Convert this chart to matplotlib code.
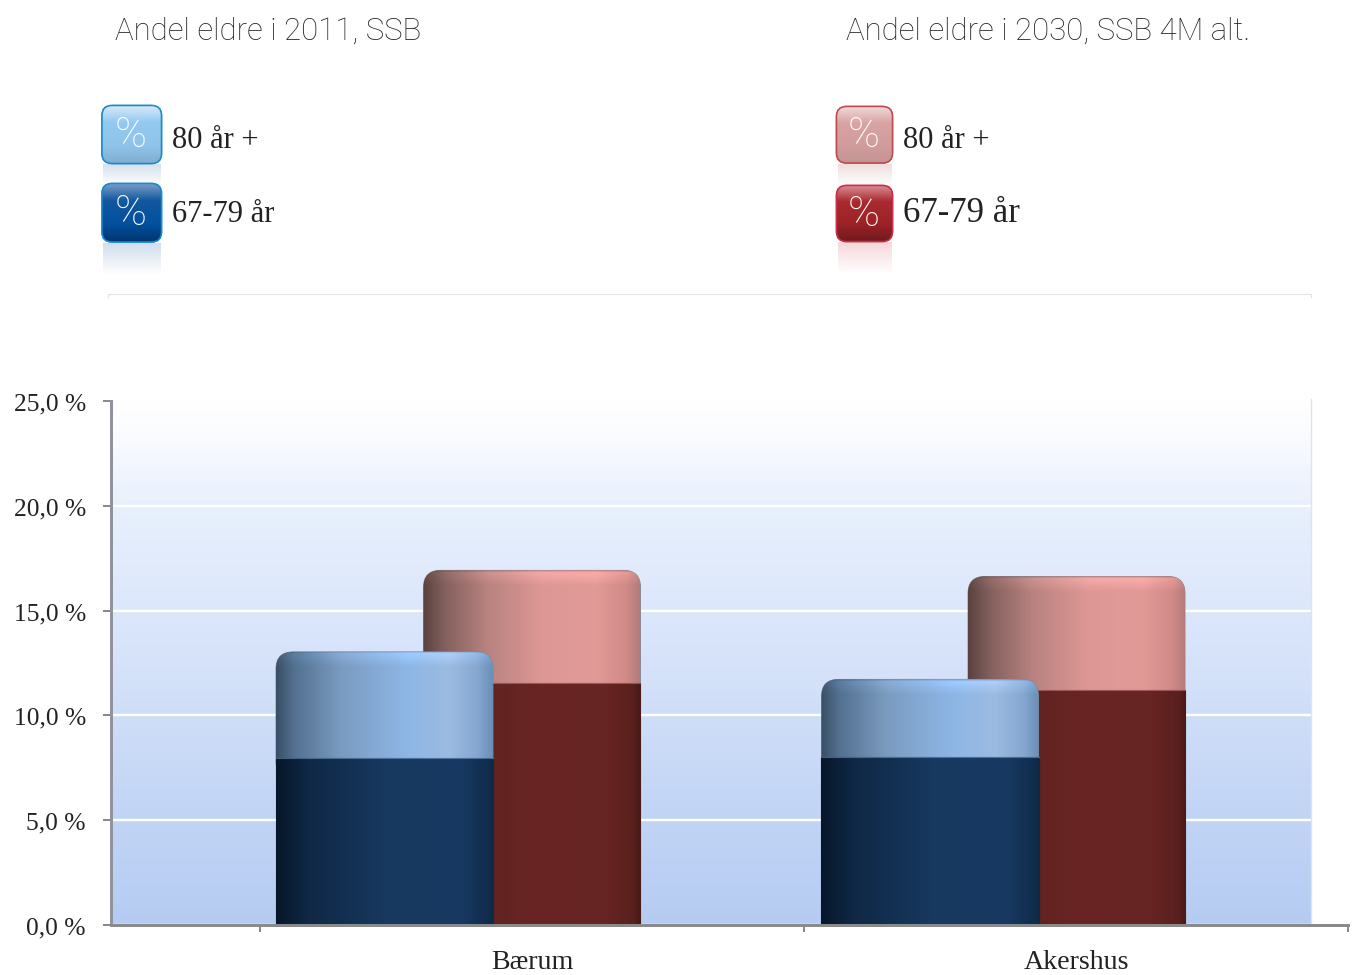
import numpy as np
import matplotlib
matplotlib.use("Agg")
import matplotlib.pyplot as plt
from matplotlib.patches import FancyBboxPatch
from matplotlib.colors import to_rgb
from matplotlib.transforms import ScaledTranslation

categories = ["Bærum", "Akershus"]
y_ticks = [0, 5, 10, 15, 20, 25]
y_tick_labels = ["0,0 %", "5,0 %", "10,0 %", "15,0 %", "20,0 %", "25,0 %"]
age_67_79_2011 = [7.97, 8.0]
age_80_2011 = [5.06, 3.72]
age_67_79_2030 = [11.55, 11.2]
age_80_2030 = [5.37, 5.43]
titles = ["Andel eldre i 2011, SSB", "Andel eldre i 2030, SSB 4M alt."]
legend_labels = ["80 år +", "67-79 år"]

W, H = 1357, 975
SERIF = "Liberation Serif"
TITLE_FONT = "Roboto"
PX = 72 / 100  # points per pixel

fig = plt.figure(figsize=(W / 100, H / 100), dpi=100, facecolor="white")


def grad(stops, n=256):
    pos = [p for p, _ in stops]
    cols = np.array([to_rgb(c) for _, c in stops])
    t = np.linspace(0, 1, n)
    return np.stack([np.interp(t, pos, cols[:, i]) for i in range(3)], axis=-1)


# ---- Chart axes: y 0-25 maps to pixels 925-401; categories 544 px apart
L, R, B, T = 111, 1348, 925, 401
ax = fig.add_axes([L / W, 1 - B / H, (R - L) / W, (B - T) / H], facecolor="none")
xmin, xmax = (L - 532) / 544, 1.5
ax.set_xlim(xmin, xmax)
ax.set_ylim(0, 25)
px_x = 1 / 544
px_y = 25 / (B - T)

# background gradient (ends at 1311 px)
bg_stops = [(0, "#ffffff"), (0.06, "#fbfcff"), (0.2, "#e8f0fd"), (0.4, "#dce7fb"),
            (0.6, "#cfdef8"), (0.8, "#c1d4f5"), (1, "#b5ccf2")]
bg_right = xmin + (1311 - L) * px_x
ax.imshow(grad(bg_stops)[:, None, :], extent=(xmin, bg_right, 0, 25), aspect="auto",
          origin="upper", zorder=0, interpolation="bilinear")
ax.plot([bg_right, bg_right], [0, 25.1], color="#dfe3ea", lw=1.0, zorder=0.6, clip_on=False)

BAR_W = 217 * px_x
BLUE_X = [-147.5 * px_x, -146 * px_x]
RED_X = [0 * px_x, 0.5 * px_x]

LIGHT_BLUE = [(0, "#3a4f66"), (0.08, "#52708f"), (0.3, "#7b9bc0"), (0.6, "#8db6e6"),
              (0.8, "#9cbbe0"), (0.93, "#86a7d0"), (1, "#6a8fb8")]
DARK_BLUE = [(0, "#07172a"), (0.15, "#0f2845"), (0.5, "#17385f"), (0.85, "#183a62"), (1, "#0f2a49")]
LIGHT_RED = [(0, "#5a4240"), (0.1, "#83605d"), (0.3, "#b98380"), (0.55, "#dd9895"),
             (0.8, "#e29a97"), (0.94, "#d08a87"), (1, "#b27c79")]
DARK_RED = [(0, "#4c1b19"), (0.2, "#5e2220"), (0.5, "#682523"), (0.85, "#662422"), (0.97, "#5a201e"), (1, "#491a18")]
EDGE = "#7a828c"


def upper_image(stops, bottom, top):
    g = grad(stops)
    h_px = max(int((top - bottom) / px_y), 2)
    factor = np.ones(h_px)
    rim = min(16, h_px)
    factor[:rim] = np.linspace(1.13, 1.0, rim)
    factor[:3] = [0.92, 1.02, 1.1]
    img = g[None, :, :] * factor[:, None, None]
    return np.clip(img, 0, 1)


def draw_bar(x, base, upper, light, dark, z):
    left = x - BAR_W / 2
    top = base + upper
    # upper (80+) segment, rounded at the top
    box = FancyBboxPatch((left, base - 1), BAR_W, upper + 1,
                         boxstyle=f"round,pad=0,rounding_size={17 * px_x}",
                         mutation_aspect=px_y / px_x, facecolor=light[3][1],
                         edgecolor=EDGE, linewidth=0.6, zorder=z)
    ax.add_patch(box)
    im = ax.imshow(upper_image(light, base, top), extent=(left, left + BAR_W, base, top),
                   aspect="auto", origin="upper", zorder=z + 0.01, interpolation="bilinear")
    im.set_clip_path(box)
    # lower (67-79) segment
    bars = ax.bar([x], [base], width=BAR_W, color=dark[2][1], edgecolor=dark[-1][1], linewidth=0.8, zorder=z + 0.02)
    im2 = ax.imshow(grad(dark)[None, :, :], extent=(left, left + BAR_W, 0, base),
                    aspect="auto", origin="upper", zorder=z + 0.03, interpolation="bilinear")
    im2.set_clip_path(bars[0])
    ax.plot([left, left + BAR_W], [base, base], color=light[3][1], lw=0.8, alpha=0.45, zorder=z + 0.04)


for i in range(len(categories)):
    draw_bar(RED_X[i] + i, age_67_79_2030[i], age_80_2030[i], LIGHT_RED, DARK_RED, 2)
    draw_bar(BLUE_X[i] + i, age_67_79_2011[i], age_80_2011[i], LIGHT_BLUE, DARK_BLUE, 3)

ax.set_xlim(xmin, xmax)
ax.set_ylim(0, 25)

# axes, ticks, grid
ax.set_axisbelow(True)
ax.yaxis.grid(True, color="white", lw=2.4 * PX)
ax.set_yticks(y_ticks)
ax.set_yticklabels(y_tick_labels, fontfamily=SERIF, fontsize=18.4, color="#222222")
ax.tick_params(axis="y", length=8 * PX, width=2 * PX, color="#8a8a8a", pad=17 * PX)
shift = ScaledTranslation(0, -1 / 100, fig.dpi_scale_trans)
for lab in ax.get_yticklabels():
    lab.set_transform(lab.get_transform() + shift)
ax.set_xticks([0, 1])
ax.set_xticklabels(categories, fontfamily=SERIF, fontsize=20.2, color="#222222")
ax.set_xticks([-0.5, 0.5, 1.5], minor=True)
ax.tick_params(axis="x", which="major", length=0, pad=25 * PX)
ax.tick_params(axis="x", which="minor", length=7 * PX, width=2 * PX, color="#8a8a8a")
for s in ("top", "right"):
    ax.spines[s].set_visible(False)
ax.spines["left"].set_color("#8f949c")
ax.spines["left"].set_linewidth(3 * PX)
ax.spines["bottom"].set_color("#8a8a8a")
ax.spines["bottom"].set_linewidth(3 * PX)
ax.spines["bottom"].set_zorder(6)

# ---- Overlay for the header (titles, legend icons, separator), pixel coordinates
ov = fig.add_axes([0, 0, 1, 1], facecolor="none", zorder=5)
ov.set_axis_off()


def icon(l, t, r, b, stops, edge, reflect, refl_h):
    rr = to_rgb(reflect)
    alpha = np.linspace(0.42, 0, 64)
    rgba = np.zeros((64, 1, 4))
    rgba[..., :3] = rr
    rgba[:, 0, 3] = alpha
    ov.imshow(rgba, extent=(l + 1, r - 1, b + refl_h + 1, b + 1), aspect="auto", origin="upper", zorder=1)
    box = FancyBboxPatch((l, t), r - l, b - t, boxstyle="round,pad=0,rounding_size=10",
                         facecolor=stops[1][1], edgecolor=edge, linewidth=1.1, zorder=2)
    ov.add_patch(box)
    im = ov.imshow(grad(stops)[:, None, :], extent=(l, r, b, t), aspect="auto", origin="upper",
                   zorder=2.1, interpolation="bilinear")
    im.set_clip_path(box)
    ov.add_patch(FancyBboxPatch((l, t), r - l, b - t, boxstyle="round,pad=0,rounding_size=10",
                                facecolor="none", edgecolor=edge, linewidth=1.1, zorder=2.2))
    ov.text((l + r) / 2 - 1, (t + b) / 2 + 1, "%", color="white", fontsize=31, fontfamily="Roboto",
            fontweight="light", ha="center", va="center", zorder=3)


B1 = [(0, "#dbeafa"), (0.3, "#93c9f0"), (0.7, "#8fc3ea"), (1, "#82aed0")]
B2 = [(0, "#7f9fca"), (0.3, "#11589f"), (0.7, "#02509e"), (1, "#01356e")]
R1 = [(0, "#f1dcdc"), (0.3, "#d7a3a3"), (0.7, "#d09c9c"), (1, "#c49494")]
R2 = [(0, "#dc8e96"), (0.3, "#a82a2e"), (0.7, "#9c2226"), (1, "#701a1e")]
icon(102, 105.5, 161.5, 163.5, B1, "#1b8ccb", "#9fb7d2", 22)
icon(102, 183.5, 161.5, 242, B2, "#1a8ad0", "#8fb0d4", 32)
icon(836.5, 106.5, 892.5, 163, R1, "#bf4b50", "#d8b0b0", 22)
icon(836.5, 185.5, 892.5, 241.5, R2, "#c8304a", "#e8a0a8", 32)

for x, s in zip((115, 846), titles):
    ov.text(x, 31, s, fontfamily=TITLE_FONT, fontweight="light", fontsize=22.4, color="#222222",
            ha="left", va="center")
ov.text(172, 140, legend_labels[0], fontfamily=SERIF, fontsize=22, color="#222222", ha="left", va="center")
ov.text(172, 215, legend_labels[1], fontfamily=SERIF, fontsize=22, color="#222222", ha="left", va="center")
ov.text(903, 140, legend_labels[0], fontfamily=SERIF, fontsize=22, color="#222222", ha="left", va="center")
ov.text(903, 214, legend_labels[1], fontfamily=SERIF, fontsize=25, color="#222222", ha="left", va="center")

ov.plot([108, 108, 1311, 1311], [297, 294, 294, 297], color="#e2e2e2", lw=0.8)
ov.set_xlim(0, W)
ov.set_ylim(H, 0)

fig.savefig("out.png", dpi=100, facecolor="white")
